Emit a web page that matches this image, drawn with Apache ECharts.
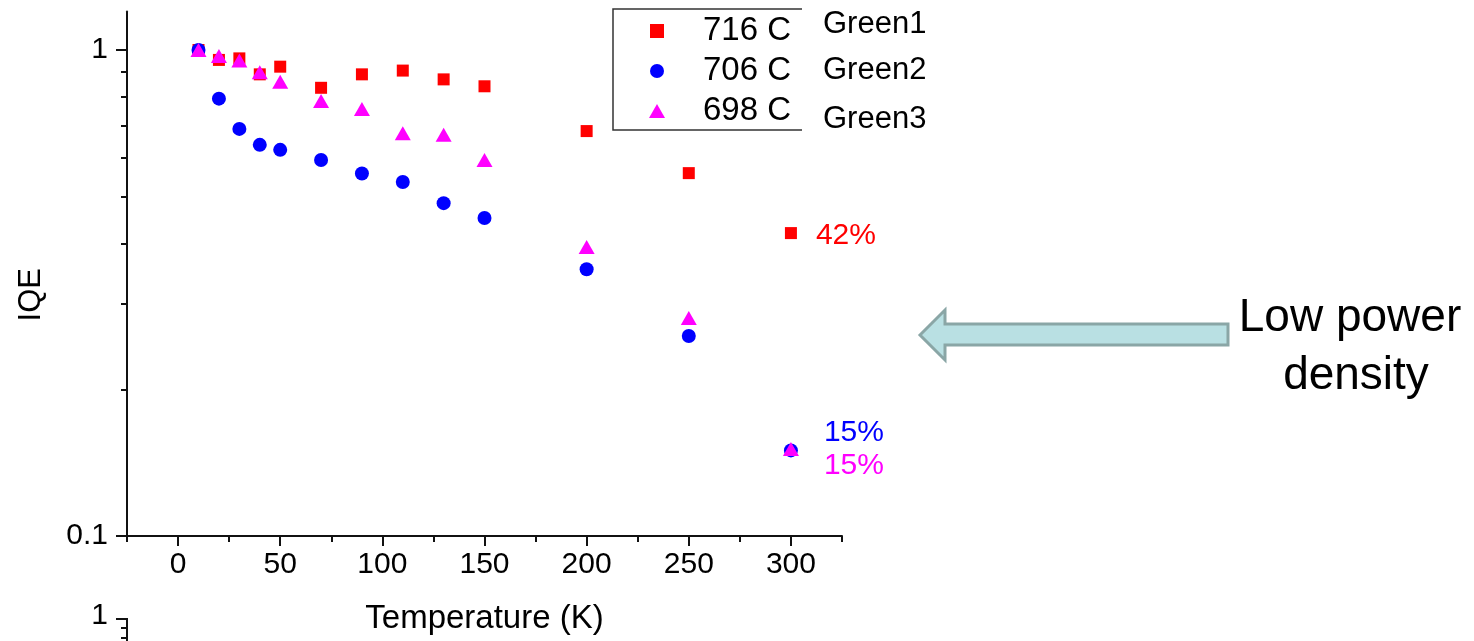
<!DOCTYPE html>
<html>
<head>
<meta charset="utf-8">
<script src="https://cdn.jsdelivr.net/npm/echarts@6/dist/echarts.min.js"></script>
<style>
  html, body { margin: 0; padding: 0; background: #fff; }
  #chart { width: 1474px; height: 641px; }
</style>
</head>
<body>
<div id="chart"></div>
<script>
// temperature (K) and IQE
const temps = [10, 20, 30, 40, 50, 70, 90, 110, 130, 150, 200, 250, 300]
const iqe716 = [1.0, 0.954, 0.961, 0.891, 0.924, 0.836, 0.891, 0.907, 0.870, 0.842, 0.681, 0.558, 0.420]
const iqe706 = [1.0, 0.794, 0.688, 0.638, 0.623, 0.594, 0.557, 0.535, 0.484, 0.451, 0.354, 0.258, 0.150]
const iqe698 = [1.0, 0.972, 0.951, 0.900, 0.860, 0.785, 0.756, 0.674, 0.669, 0.594, 0.393, 0.281, 0.151]
const seriesNames = ['716 C', '706 C', '698 C']
const sampleNames = ['Green1', 'Green2', 'Green3']
const endLabels = ['42%', '15%', '15%']
const xTicks = [0, 50, 100, 150, 200, 250, 300]
const xMinorTicks = [-25, 25, 75, 125, 175, 225, 275, 325]
const yTicks = [0.1, 1]
const yMinorTicks = [0.2, 0.3, 0.4, 0.5, 0.6, 0.7, 0.8, 0.9]

const FONT = '"Liberation Sans", Arial, sans-serif'
const AXIS_COLOR = '#111'

function makeSeries (idx, values, symbol, size, color, labelCfg) {
  return {
    name: seriesNames[idx],
    type: 'scatter',
    symbol: symbol,
    symbolSize: size,
    symbolKeepAspect: true,
    itemStyle: { color: color, opacity: 1 },
    emphasis: { disabled: true },
    data: temps.map((t, i) => {
      const item = { value: [t, values[i]] }
      // only the last point carries the percentage
      if (i === temps.length - 1) {
        item.label = Object.assign({
          show: true,
          formatter: endLabels[idx],
          color: color,
          fontSize: 30,
          fontFamily: FONT,
          position: 'right'
        }, labelCfg)
      }
      return item
    })
  }
}

let chart = echarts.init(document.getElementById('chart'))
let option = {
  animation: false,
  backgroundColor: '#fff',
  textStyle: { fontFamily: FONT },
  grid: { left: 127, right: 632, top: 11.5, bottom: 105 },
  legend: {
    data: [
      { name: seriesNames[0], icon: 'path://M0,0L13,0L13,13L0,13Z' },
      { name: seriesNames[1], icon: 'circle' },
      { name: seriesNames[2], icon: 'path://M8,0L16,14L0,14Z' }
    ],
    orient: 'vertical',
    left: 649,
    top: 11,
    padding: 0,
    itemGap: 0,
    itemWidth: 16,
    itemHeight: 14,
    symbolKeepAspect: true,
    textStyle: { fontSize: 33, color: '#000', lineHeight: 40, fontFamily: FONT, padding: [0, 0, 0, 33] }
  },
  xAxis: [
    {
      type: 'value',
      min: -25,
      max: 325,
      position: 'bottom',
      axisLine: { onZero: false, lineStyle: { color: AXIS_COLOR, width: 2 } },
      axisTick: { customValues: xTicks, length: 10, lineStyle: { color: AXIS_COLOR, width: 2 } },
      axisLabel: { customValues: xTicks, fontSize: 30, color: '#000', margin: 14, fontFamily: FONT },
      splitLine: { show: false },
      name: 'Temperature (K)',
      nameLocation: 'middle',
      nameGap: 66,
      nameTextStyle: { fontSize: 33, color: '#000', fontFamily: FONT }
    },
    {
      type: 'value',
      min: -25,
      max: 325,
      position: 'bottom',
      axisLine: { show: false, onZero: false },
      axisTick: { customValues: xMinorTicks, length: 6, lineStyle: { color: AXIS_COLOR, width: 2 } },
      axisLabel: { show: false },
      splitLine: { show: false }
    }
  ],
  yAxis: [
    {
      type: 'log',
      logBase: 10,
      min: 0.1,
      max: 1.2,
      position: 'left',
      axisLine: { show: true, onZero: false, lineStyle: { color: AXIS_COLOR, width: 2 } },
      axisTick: { show: true, customValues: yTicks, length: 11, lineStyle: { color: AXIS_COLOR, width: 2 } },
      axisLabel: { customValues: yTicks, fontSize: 30, color: '#000', margin: 19, fontFamily: FONT },
      splitLine: { show: false },
      name: 'IQE',
      nameLocation: 'middle',
      nameGap: 80,
      nameRotate: 90,
      nameTextStyle: { fontSize: 31, color: '#000', fontFamily: FONT, padding: [0, 42, 0, 0] }
    },
    {
      type: 'log',
      logBase: 10,
      min: 0.1,
      max: 1.2,
      position: 'left',
      axisLine: { show: false, onZero: false },
      axisTick: { show: true, customValues: yMinorTicks, length: 6, lineStyle: { color: AXIS_COLOR, width: 2 } },
      axisLabel: { show: false },
      splitLine: { show: false }
    }
  ],
  series: [
    makeSeries(0, iqe716, 'rect', 12, '#ff0000', { distance: 19, offset: [0, 3] }),
    makeSeries(1, iqe706, 'circle', 14, '#0000ff', { distance: 26, offset: [0, -18] }),
    makeSeries(2, iqe698, 'triangle', [16, 14], '#ff00ff', { distance: 25, offset: [0, 17] })
  ],
  graphic: [
    // legend frame (right edge is open in the original)
    {
      type: 'polyline',
      shape: { points: [[802, 9], [613, 9], [613, 130], [802, 130]] },
      style: { stroke: '#333', lineWidth: 1.5, fill: null }
    },
    {
      type: 'text', left: 823, top: 9,
      style: { text: sampleNames[0], fill: '#000', font: '31px ' + FONT }
    },
    {
      type: 'text', left: 823, top: 55,
      style: { text: sampleNames[1], fill: '#000', font: '31px ' + FONT }
    },
    {
      type: 'text', left: 823, top: 104,
      style: { text: sampleNames[2], fill: '#000', font: '31px ' + FONT }
    },
    // big arrow
    {
      type: 'polygon',
      shape: { points: [[920, 335], [945, 310], [945, 324], [1228, 324], [1228, 345], [945, 345], [945, 360]] },
      style: { fill: '#b9e0e3', stroke: '#8aa6a6', lineWidth: 3 }
    },
    {
      type: 'text', x: 1350, y: 318,
      style: { text: 'Low power', font: '46px ' + FONT, fill: '#000', textAlign: 'center', textVerticalAlign: 'middle' }
    },
    {
      type: 'text', x: 1356, y: 376,
      style: { text: 'density', font: '46px ' + FONT, fill: '#000', textAlign: 'center', textVerticalAlign: 'middle' }
    },
    // top of a second plot peeking in at the bottom
    {
      type: 'text', x: 108, y: 616,
      style: { text: '1', font: '30px ' + FONT, fill: '#000', textAlign: 'right', textVerticalAlign: 'middle' }
    },
    {
      type: 'polyline',
      shape: { points: [[116, 619], [127, 619], [127, 641]] },
      style: { stroke: AXIS_COLOR, lineWidth: 2, fill: null }
    },
    {
      type: 'line',
      shape: { x1: 121, y1: 628, x2: 127, y2: 628 },
      style: { stroke: AXIS_COLOR, lineWidth: 2 }
    },
    {
      type: 'line',
      shape: { x1: 121, y1: 638, x2: 127, y2: 638 },
      style: { stroke: AXIS_COLOR, lineWidth: 2 }
    }
  ]
}
chart.setOption(option)
</script>
</body>
</html>
